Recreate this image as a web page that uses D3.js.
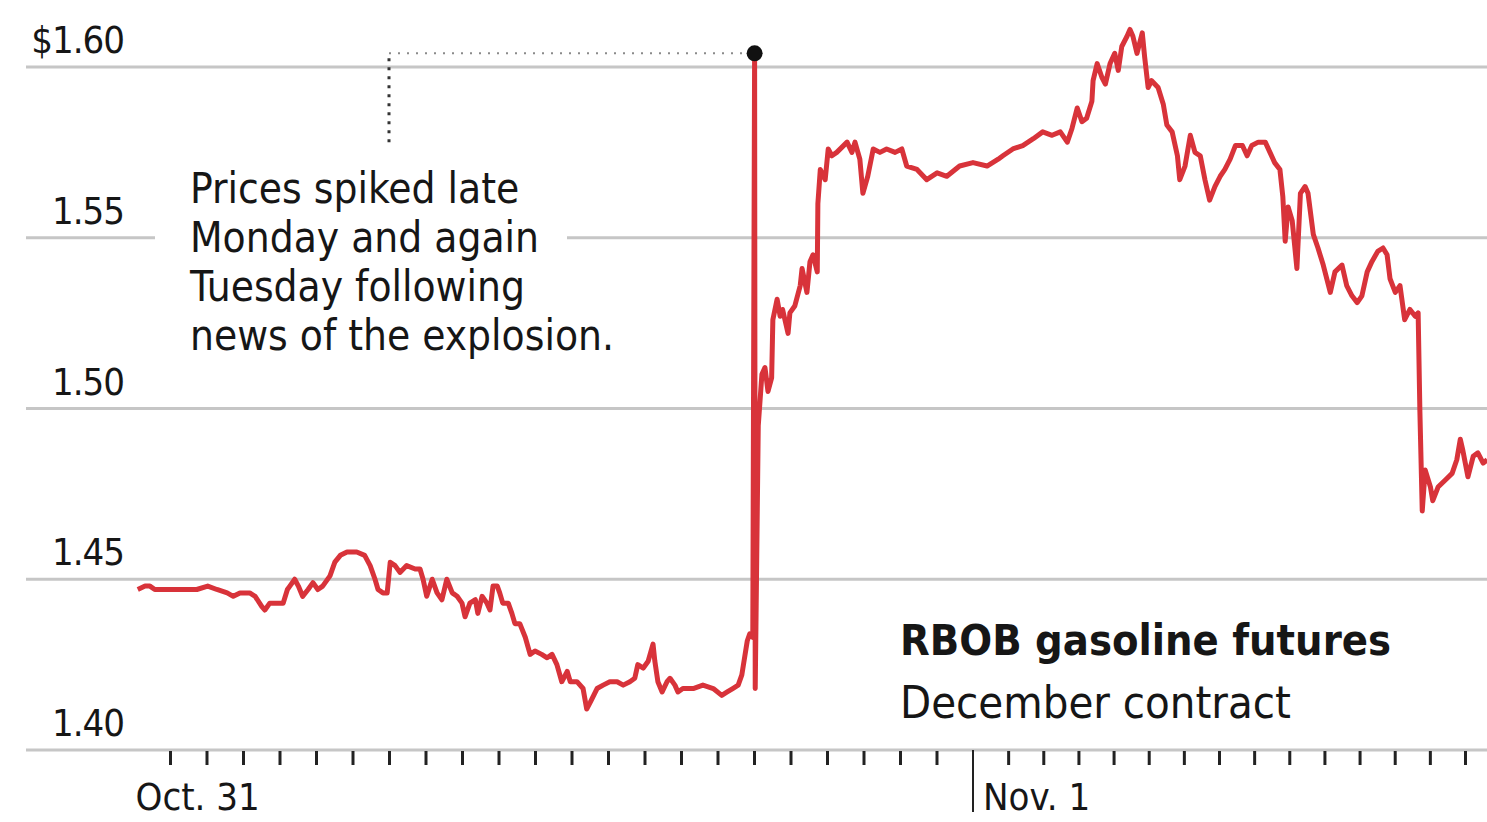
<!DOCTYPE html>
<html>
<head>
<meta charset="utf-8">
<style>
  body { margin: 0; background: #fff; }
  svg { display: block; }
  text { font-family: "DejaVu Sans Condensed", "DejaVu Sans", sans-serif; font-stretch: condensed; fill: #161616; }
  .grid line { stroke: #c6c6c6; stroke-width: 3px; }
  .price { fill: none; stroke: #d8333a; stroke-width: 5px; stroke-linejoin: round; }
  .ticks .tick line { stroke: #222; stroke-width: 3px; }
  .ticks .domain { display: none; }
</style>
</head>
<body>
<svg width="1487" height="822"></svg>
<script src="https://d3js.org/d3.v7.min.js"></script>
<script>
// hours after midnight Oct. 31 (Eastern)
var hours = [
  1.12,1.32,1.45,1.59,1.78,2.08,2.36,2.74,3.04,3.29,3.56,3.73,3.92,4.19,4.33,4.52,4.60,4.74,4.93,5.10,
  5.21,5.29,5.42,5.51,5.64,5.78,5.92,6.05,6.19,6.38,6.52,6.66,6.85,7.12,7.34,7.48,7.62,7.70,7.84,7.95,
  8.03,8.16,8.30,8.49,8.71,8.85,8.93,9.04,9.18,9.32,9.45,9.59,9.73,9.86,10.00,10.08,10.22,10.36,10.44,10.55,
  10.68,10.77,10.85,10.96,11.04,11.12,11.26,11.37,11.45,11.59,11.73,11.86,12.00,12.19,12.33,12.47,12.60,12.74,12.88,12.96,
  13.15,13.32,13.42,13.51,13.70,13.86,14.05,14.25,14.41,14.60,14.74,14.82,14.96,15.10,15.23,15.29,15.37,15.48,15.62,15.70,
  15.84,15.92,16.05,16.33,16.60,16.88,17.12,17.26,17.42,17.56,17.67,17.81,17.89,17.97,18.02,18.04,18.12,18.22,18.30,18.38,
  18.49,18.52,18.63,18.71,18.79,18.93,18.99,19.12,19.26,19.32,19.45,19.53,19.62,19.73,19.75,19.81,19.95,20.03,20.14,20.27,
  20.55,20.68,20.77,20.90,20.99,21.12,21.26,21.45,21.64,21.86,22.05,22.19,22.47,22.74,23.01,23.29,23.64,24.00,24.40,24.71,
  24.85,25.14,25.42,25.71,25.99,26.25,26.48,26.68,26.82,26.96,27.10,27.24,27.39,27.41,27.53,27.67,27.76,27.90,28.04,28.13,
  28.24,28.38,28.47,28.55,28.67,28.81,28.89,28.98,29.09,29.27,29.41,29.52,29.66,29.81,29.89,30.03,30.18,30.32,30.46,30.60,
  30.74,30.89,31.03,31.17,31.31,31.46,31.66,31.80,31.94,32.11,32.31,32.45,32.59,32.74,32.82,32.88,32.97,33.08,33.22,33.31,
  33.45,33.54,33.68,33.82,33.96,34.16,34.30,34.50,34.64,34.78,34.93,35.07,35.21,35.35,35.52,35.66,35.78,35.87,36.01,36.15,
  36.29,36.44,36.58,36.66,36.72,36.78,36.86,37.01,37.09,37.23,37.43,37.63,37.77,37.86,37.94,38.09,38.23,38.37,38.51,38.63
];

// RBOB gasoline futures, December contract, $ per gallon
var prices = [
  1.447,1.448,1.448,1.447,1.447,1.447,1.447,1.447,1.448,1.447,1.446,1.445,1.446,1.446,1.445,1.442,1.441,1.443,1.443,1.443,
  1.447,1.448,1.450,1.448,1.445,1.447,1.449,1.447,1.448,1.451,1.455,1.457,1.458,1.458,1.457,1.454,1.450,1.447,1.446,1.446,
  1.455,1.454,1.452,1.454,1.453,1.453,1.450,1.445,1.450,1.446,1.444,1.450,1.446,1.445,1.443,1.439,1.443,1.444,1.440,1.445,
  1.443,1.441,1.448,1.448,1.446,1.443,1.443,1.440,1.437,1.437,1.433,1.428,1.429,1.428,1.427,1.428,1.425,1.420,1.423,1.420,
  1.420,1.418,1.412,1.414,1.418,1.419,1.420,1.420,1.419,1.420,1.421,1.425,1.424,1.426,1.431,1.426,1.420,1.417,1.420,1.421,
  1.419,1.417,1.418,1.418,1.419,1.418,1.416,1.417,1.418,1.419,1.422,1.432,1.434,1.433,1.604,1.418,1.495,1.510,1.512,1.505,
  1.509,1.526,1.532,1.527,1.529,1.522,1.528,1.530,1.536,1.541,1.534,1.543,1.545,1.540,1.560,1.570,1.567,1.576,1.574,1.575,
  1.578,1.575,1.578,1.573,1.563,1.568,1.576,1.575,1.576,1.575,1.576,1.571,1.570,1.567,1.569,1.568,1.571,1.572,1.571,1.573,
  1.574,1.576,1.577,1.579,1.581,1.580,1.581,1.578,1.582,1.588,1.584,1.585,1.590,1.596,1.601,1.597,1.595,1.601,1.604,1.599,
  1.606,1.609,1.611,1.609,1.604,1.610,1.603,1.594,1.596,1.594,1.589,1.583,1.581,1.574,1.567,1.571,1.580,1.575,1.574,1.567,
  1.561,1.565,1.568,1.570,1.573,1.577,1.577,1.574,1.577,1.578,1.578,1.575,1.572,1.570,1.562,1.549,1.559,1.555,1.541,1.563,
  1.565,1.563,1.551,1.547,1.542,1.534,1.540,1.542,1.536,1.533,1.531,1.533,1.540,1.543,1.546,1.547,1.545,1.538,1.534,1.536,
  1.526,1.529,1.527,1.528,1.499,1.470,1.482,1.477,1.473,1.477,1.479,1.481,1.485,1.491,1.488,1.480,1.486,1.487,1.484,1.485
];

var yTicks = [1.40, 1.45, 1.50, 1.55, 1.60];
var yLabels = ["1.40", "1.45", "1.50", "1.55", "$1.60"];
var dayLabels = ["Oct. 31", "Nov. 1"];
var noteLines = ["Prices spiked late", "Monday and again", "Tuesday following", "news of the explosion."];
var spikeIndex = 114;   // the late-Monday spike

var base = new Date(2016, 9, 31);
function at(h) { return new Date(base.getTime() + Math.round(h * 60) * 60000); }

var data = hours.map(function(h, i) { return { t: at(h), v: prices[i] }; });

var svg = d3.select("svg");

// hourly axis; the Nov. 1 half of the picture is a touch narrower, so two segments
var x = d3.scaleTime()
  .domain([at(2), at(24), at(38)])
  .range([170, 973, 1465]);
var y = d3.scaleLinear().domain([1.40, 1.60]).range([750, 67]);

// gridlines
svg.append("g").attr("class", "grid")
  .selectAll("line").data(yTicks).enter().append("line")
  .attr("x1", 26).attr("x2", 1487)
  .attr("y1", function(d) { return y(d); })
  .attr("y2", function(d) { return y(d); });

// y labels
svg.append("g")
  .selectAll("text").data(yTicks).enter().append("text")
  .attr("x", 124)
  .attr("y", function(d) { return y(d) - 14; })
  .attr("text-anchor", "end")
  .style("font-size", "38px")
  .style("letter-spacing", "-1px")
  .text(function(d, i) { return yLabels[i]; });

// hour ticks
var tickTimes = d3.range(2, 39).filter(function(h) { return h !== 24; }).map(at);
svg.append("g").attr("class", "ticks")
  .attr("transform", "translate(0,751)")
  .call(d3.axisBottom(x).tickValues(tickTimes).tickSize(14).tickFormat(""));

svg.append("line")
  .attr("x1", x(at(24))).attr("x2", x(at(24)))
  .attr("y1", 750).attr("y2", 812)
  .attr("stroke", "#222").attr("stroke-width", 2);

svg.append("text").attr("x", x(at(1)) + 2).attr("y", 810)
  .style("font-size", "38px").text(dayLabels[0]);
svg.append("text").attr("x", x(at(24)) + 10).attr("y", 810)
  .style("font-size", "38px").text(dayLabels[1]);

// annotation knocks out the 1.55 gridline
svg.append("rect")
  .attr("x", 155).attr("width", 412)
  .attr("y", y(1.55) - 4).attr("height", 8)
  .attr("fill", "#fff");

var spike = data[spikeIndex];
svg.append("line")
  .attr("x1", 389).attr("x2", x(spike.t) - 9)
  .attr("y1", y(spike.v)).attr("y2", y(spike.v))
  .attr("stroke", "#8a8a8a").attr("stroke-width", 2)
  .attr("stroke-dasharray", "2,7");
svg.append("line")
  .attr("x1", 389).attr("x2", 389)
  .attr("y1", y(spike.v) + 5).attr("y2", 145)
  .attr("stroke", "#333").attr("stroke-width", 3)
  .attr("stroke-dasharray", "3,6");

var note = svg.append("text").attr("x", 190).attr("y", 203).style("font-size", "42px");
note.selectAll("tspan").data(noteLines).enter().append("tspan")
  .attr("x", 190)
  .attr("dy", function(d, i) { return i ? 49 : 0; })
  .text(function(d) { return d; });

// price line
var line = d3.line()
  .x(function(d) { return x(d.t); })
  .y(function(d) { return y(d.v); });

svg.append("path")
  .datum(data)
  .attr("class", "price")
  .attr("d", line);

svg.append("circle")
  .attr("cx", x(spike.t)).attr("cy", y(spike.v))
  .attr("r", 8).attr("fill", "#111");

// series label
svg.append("text").attr("x", 900).attr("y", 655)
  .style("font-size", "43px").style("font-weight", "bold")
  .text("RBOB gasoline futures");
svg.append("text").attr("x", 900).attr("y", 718)
  .style("font-size", "45px")
  .text("December contract");
</script>
</body>
</html>
